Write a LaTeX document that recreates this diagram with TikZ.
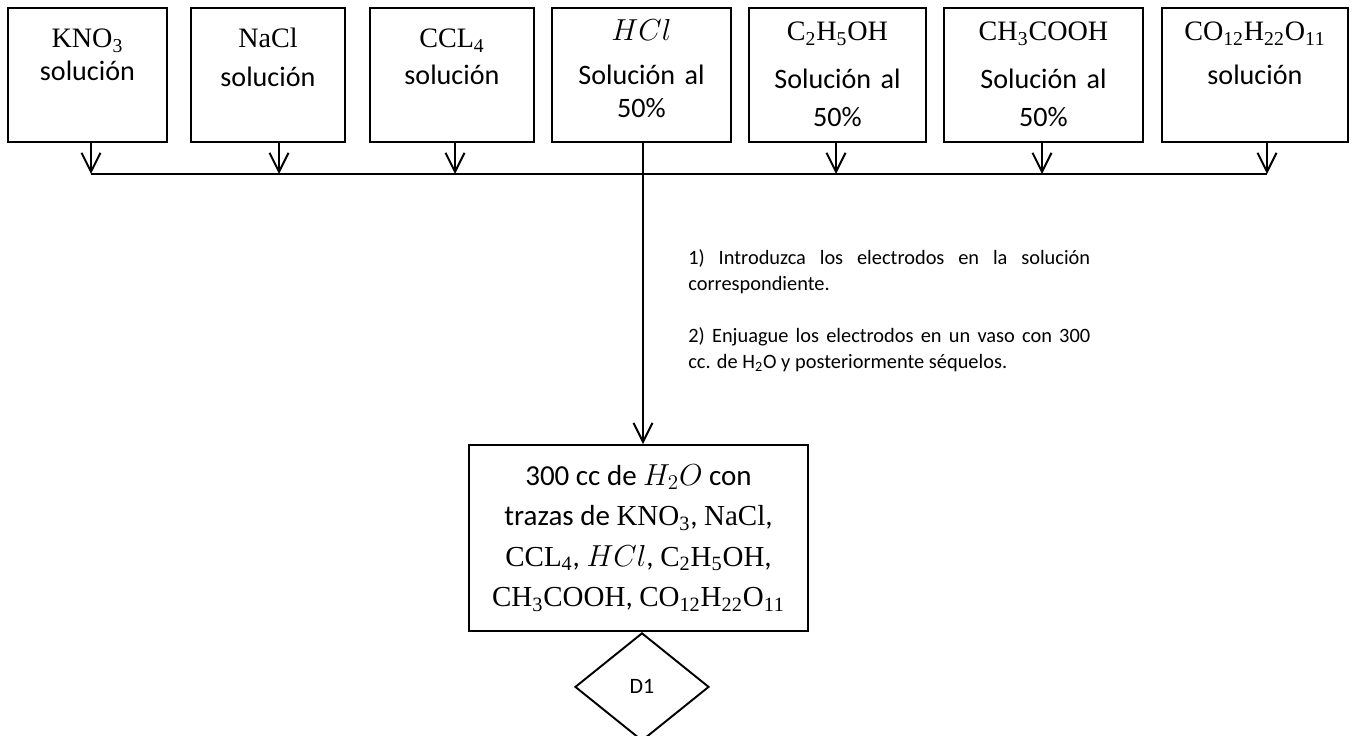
\documentclass[tikz,border=0pt]{standalone}
\usepackage{fontspec}
\setmainfont{Carlito}
\setmathrm{Liberation Serif}
\usetikzlibrary{arrows.meta}
\usetikzlibrary{shapes.geometric}

\tikzset{
  solbox/.style={draw, line width=1.1pt, inner sep=0pt, align=center,
    anchor=north west, text height=0.66cm, text depth=2.02cm,
    font=\fontsize{16}{18.8}\selectfont},
  lowtext/.style={text height=0.8cm, text depth=1.88cm},
  arr/.style={line width=1.1pt, -{Straight Barb[length=0.38cm,width=0.38cm]}},
}

\begin{document}
\begin{tikzpicture}[x=0.02cm, y=-0.02cm]

    \useasboundingbox (0,0) rectangle (1362,736);

    % the seven solutions
    \node[solbox, lowtext, text width=3.18cm] (b1) at (7,7) {$\mathrm{KNO_3}$\\solución};
    \node[solbox, lowtext, text width=3.08cm] (b2) at (190,7) {$\mathrm{NaCl}$\\[3pt]solución};
    \node[solbox, lowtext, text width=3.28cm] (b3) at (369,7) {$\mathrm{CCL_4}$\\[2pt]solución};
    \node[solbox, text width=3.58cm] (b4) at (551,7) {$HCl$\\[6pt]Solución al\\50\%};
    \node[solbox, text width=3.54cm] (b5) at (748,7) {$\mathrm{C_2H_5OH}$\\[8pt]Solución al\\[3pt]50\%};
    \node[solbox, text width=3.98cm] (b6) at (943,7) {$\mathrm{CH_3COOH}$\\[8pt]Solución al\\[3pt]50\%};
    \node[solbox, text width=3.72cm] (b7) at (1161,7) {$\mathrm{CO_{12}H_{22}O_{11}}$\\[6pt]solución};

    % collecting line
    \foreach \n/\x in {1/91,2/279,3/455,4/643,5/836,6/1042,7/1267}{
            \coordinate (j\n) at (\x,174);
        }
    \foreach \n in {1,2,3,5,6,7}
				\draw[arr] (b\n.south -| j\n) -- (j\n);
    \draw[line width=1.1pt] (j1) -- (j7);

    % rinse water
    \node[draw, line width=1.1pt, inner sep=0pt, align=center,
      minimum width=6.78cm, minimum height=3.72cm,
      font=\fontsize{16.5}{23}\selectfont] (mix) at (638.5,538)
      {300 cc de $H_2O$ con\\trazas de $\mathrm{KNO_3}$, $\mathrm{NaCl}$,\\
       $\mathrm{CCL_4}$, $HCl$, $\mathrm{C_2H_5OH}$,\\$\mathrm{CH_3COOH}$, $\mathrm{CO_{12}H_{22}O_{11}}$};

    \draw[arr] (b4.south -| j4) -- (mix.north -| j4);

    \node[draw, line width=1.1pt, diamond, inner sep=0pt, minimum width=2.68cm,
      minimum height=2.16cm, anchor=north, font=\fontsize{12.5}{14}\selectfont]
      (d1) at (mix.south -| 642,0) {D1};

    % steps
    \node[anchor=north west, inner sep=0pt, text width=8.04cm, align=justify,
      font=\fontsize{11.6}{14.8}\selectfont] (steps) at (688,249)
      {1) Introduzca los electrodos en la solución\linebreak correspondiente.\par
       \vspace{14.8pt}
       2) Enjuague los electrodos en un vaso con 300\linebreak cc. de H\textsubscript{2}O y posteriormente séquelos.};

\end{tikzpicture}
\end{document}
